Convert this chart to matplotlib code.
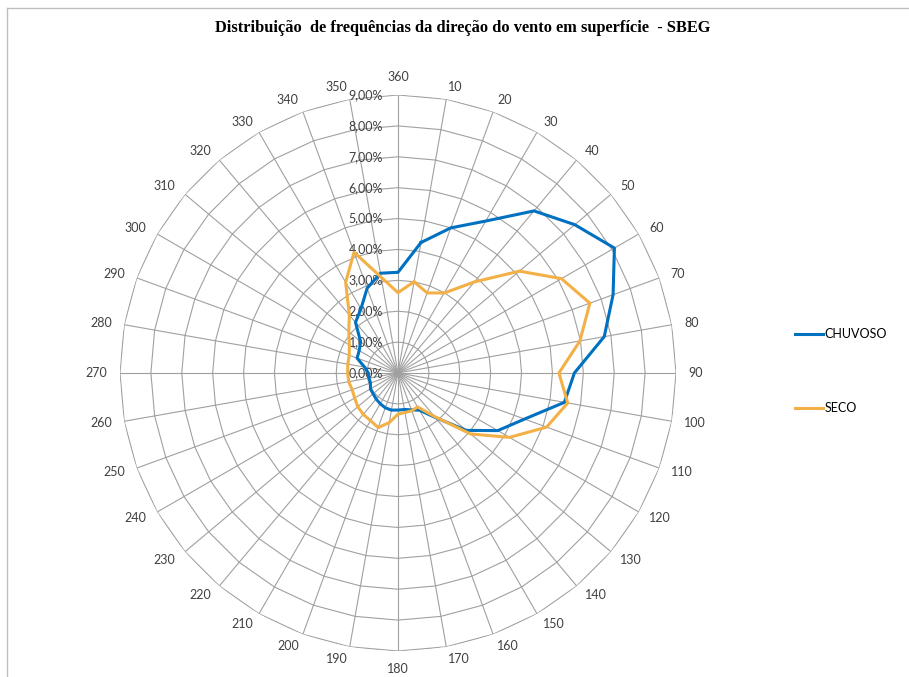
import numpy as np
import matplotlib
matplotlib.use("Agg")
import matplotlib.pyplot as plt
from matplotlib.lines import Line2D

# wind direction categories (degrees) and frequencies (%)
directions = list(range(10, 361, 10))
chuvoso = [4.29, 5.00, 5.68, 6.85, 7.47, 8.09, 7.41, 6.78, 5.71, 5.47,
           4.36, 3.73, 2.89, 1.88, 1.39, 1.27, 1.20, 1.20, 1.22, 1.20,
           1.15, 1.10, 1.05, 1.03, 0.95, 0.95, 0.96, 1.10, 1.41, 1.45,
           1.58, 2.14, 2.40, 2.92, 3.28, 3.26]
seco = [3.00, 2.76, 2.99, 3.85, 5.13, 6.11, 6.61, 5.98, 5.21, 5.58,
        5.12, 4.17, 3.07, 1.84, 1.27, 1.30, 1.30, 1.33, 1.63, 1.88,
        1.78, 1.75, 1.70, 1.62, 1.58, 1.62, 1.63, 1.65, 1.68, 1.82,
        2.08, 2.45, 3.39, 4.16, 3.15, 2.60]
radial_ticks = list(range(0, 10))
radial_labels = ["%d,00%%" % v for v in radial_ticks]
series_names = ["CHUVOSO", "SECO"]
series_colors = ["#0070C0", "#F2B046"]

title = "Distribuição  de frequências da direção do vento em superfície  - SBEG"

W, H = 909, 677
fig = plt.figure(figsize=(W / 100, H / 100), dpi=100)

# polar axes: centre (398, 373) px, outer ring radius 278 px
cx, cy, R = 398, 373, 278
ax = fig.add_axes([(cx - R) / W, 1 - (cy + R) / H, 2 * R / W, 2 * R / H],
                  projection="polar")
ax.set_theta_zero_location("N")
ax.set_theta_direction(-1)
ax.set_ylim(0, 9)
ax.grid(False)
ax.spines["polar"].set_visible(False)
ax.set_xticks([])
ax.set_yticks([])
ax.patch.set_alpha(0)

theta = np.deg2rad(directions)
theta_closed = np.append(theta, theta[0])
grid_color = "#A0A0A0"

# polygon rings (Excel style)
for r in radial_ticks[1:]:
    ax.plot(theta_closed, [r] * len(theta_closed), color=grid_color, lw=0.8,
            zorder=1)
# spokes
for t in theta:
    ax.plot([t, t], [0, 9], color=grid_color, lw=0.8, zorder=1)

# series
lines = []
for vals, name, col in zip([chuvoso, seco], series_names, series_colors):
    v = np.append(vals, vals[0])
    ln, = ax.plot(theta_closed, v, color=col, lw=2.2, label=name, zorder=3,
                  solid_joinstyle="round")
    lines.append(ln)

font = "Lato"
txt_color = "#404040"

# category labels: pushed out from the outer ring, aligned like Excel
gap = 8.9  # points
for d, t in zip(directions, theta):
    s, c = np.sin(t), np.cos(t)
    if abs(s) < 1e-6:
        ha = "center"
        va = "bottom" if c > 0 else "top"
    else:
        ha = "left" if s > 0 else "right"
        va = "center"
    ax.annotate(str(d), xy=(t, 9), xytext=(gap * s, gap * c),
                textcoords="offset points", ha=ha, va=va, fontsize=9,
                family=font, color=txt_color)

# radial value labels along the 360 spoke
for r, lab in zip(radial_ticks, radial_labels):
    ax.annotate(lab, xy=(0, r), xytext=(-10.8, 0), textcoords="offset points",
                ha="right", va="center", fontsize=9, family=font,
                color=txt_color, zorder=2)

fig.text(462.5 / W, 1 - 28 / H, title, ha="center", va="center",
         family="Liberation Serif", fontweight="bold", fontsize=11.8)

fig.legend(handles=lines, loc="upper left",
           bbox_to_anchor=(795 / W, 1 - 328 / H), frameon=False,
           prop={"family": font, "size": 9}, handlelength=2.2,
           handletextpad=0.15, labelspacing=5.0, borderpad=0,
           borderaxespad=0)

# chart area border (partly cropped in the reference)
fig.add_artist(Line2D([7 / W, 1], [1 - 8 / H, 1 - 8 / H],
                      transform=fig.transFigure, color="#BFBFBF", lw=1))
fig.add_artist(Line2D([7 / W, 7 / W], [0, 1 - 8 / H],
                      transform=fig.transFigure, color="#BFBFBF", lw=1))

fig.savefig("out.png", dpi=100, facecolor="white")
